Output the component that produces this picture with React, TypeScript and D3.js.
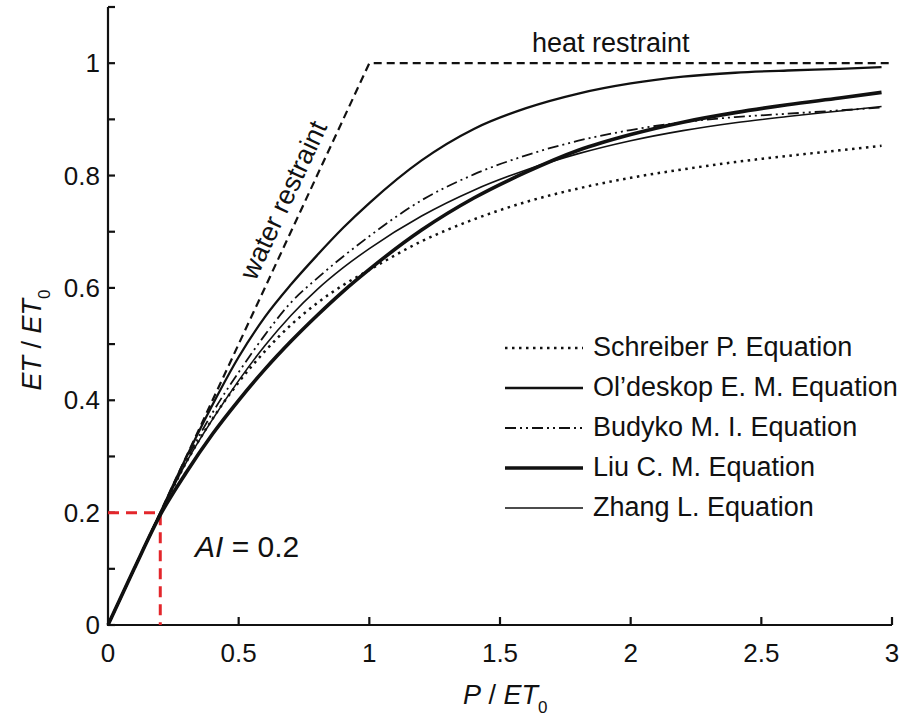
import { useRef, useEffect } from 'react';
import * as d3 from 'd3';

const W = 904;
const H = 717;
const FONT = '"Liberation Sans", Arial, sans-serif';

// P / ET0 sample points
const P_RATIO   = [0, 0.1, 0.2, 0.3, 0.4, 0.5, 0.6, 0.7, 0.8, 0.9, 1.0, 1.2, 1.4, 1.6, 1.8, 2.0, 2.2, 2.4, 2.6, 2.8, 2.96];
const SCHREIBER = [0, 0.1, 0.198, 0.29, 0.367, 0.432, 0.487, 0.534, 0.573, 0.605, 0.632, 0.683, 0.722, 0.753, 0.777, 0.796, 0.811, 0.824, 0.835, 0.845, 0.853];
const OLDESKOP  = [0, 0.1, 0.2, 0.299, 0.392, 0.477, 0.548, 0.606, 0.658, 0.707, 0.751, 0.827, 0.883, 0.92, 0.946, 0.964, 0.976, 0.983, 0.987, 0.99, 0.993];
const BUDYKO    = [0, 0.1, 0.199, 0.294, 0.378, 0.45, 0.516, 0.574, 0.617, 0.656, 0.692, 0.756, 0.802, 0.836, 0.862, 0.881, 0.895, 0.904, 0.91, 0.916, 0.921];
const LIU       = [0, 0.1, 0.196, 0.272, 0.34, 0.4, 0.455, 0.505, 0.551, 0.594, 0.633, 0.703, 0.76, 0.806, 0.845, 0.873, 0.895, 0.912, 0.926, 0.938, 0.948];
const ZHANG     = [0, 0.1, 0.198, 0.29, 0.366, 0.435, 0.497, 0.551, 0.597, 0.636, 0.67, 0.728, 0.774, 0.81, 0.839, 0.862, 0.88, 0.894, 0.905, 0.915, 0.923];

// limits: water restraint then heat restraint
const LIMIT_X = [0, 1, 2.99];
const LIMIT_Y = [0, 1, 1];

const AI = 0.2;

const X_TICKS = [0, 0.5, 1, 1.5, 2, 2.5, 3];
const X_LABELS = ['0', '0.5', '1', '1.5', '2', '2.5', '3'];
const Y_TICKS = [0, 0.2, 0.4, 0.6, 0.8, 1];
const Y_LABELS = ['0', '0.2', '0.4', '0.6', '0.8', '1'];
const Y_MINOR = [0.1, 0.3, 0.5, 0.7, 0.9, 1.1];

const SERIES = [
  { name: 'Schreiber P. Equation',   values: SCHREIBER, width: 2.5, dash: '2.5,4.5' },
  { name: 'Ol\u2019deskop E. M. Equation', values: OLDESKOP, width: 2.3, dash: null },
  { name: 'Budyko M. I. Equation',   values: BUDYKO, width: 1.8, dash: '11,4,2,4,2,4' },
  { name: 'Liu C. M. Equation',      values: LIU, width: 3.6, dash: null },
  { name: 'Zhang L. Equation',       values: ZHANG, width: 1.6, dash: null },
];

export default function App() {
  const ref = useRef<SVGSVGElement>(null);

  useEffect(() => {
    const svg = d3.select(ref.current);
    svg.selectAll('*').remove();

    const x = d3.scaleLinear().domain([0, 3]).range([108, 892]);
    const y = d3.scaleLinear().domain([0, 1.1]).range([625, 7]);

    // axes
    const ax = svg.append('g').attr('stroke', '#111').attr('stroke-width', 2.2);
    ax.append('line').attr('x1', x(0)).attr('x2', x(0)).attr('y1', y(0) + 1).attr('y2', y(1.1));
    ax.append('line').attr('x1', x(0) - 1).attr('x2', x(3)).attr('y1', y(0)).attr('y2', y(0));
    ax.selectAll('line.yt').data([...Y_TICKS, ...Y_MINOR]).enter().append('line')
      .attr('x1', x(0)).attr('x2', x(0) + 7).attr('y1', d => y(d)).attr('y2', d => y(d));
    ax.selectAll('line.xt').data(X_TICKS.slice(1)).enter().append('line')
      .attr('x1', d => x(d)).attr('x2', d => x(d)).attr('y1', y(0)).attr('y2', y(0) - 8);

    const lab = svg.append('g').attr('font-family', FONT).attr('font-size', 26).attr('fill', '#111');
    lab.selectAll('text.y').data(Y_TICKS).enter().append('text')
      .attr('x', 100).attr('y', d => y(d) + 9).attr('text-anchor', 'end')
      .text((_, i) => Y_LABELS[i]);
    lab.selectAll('text.x').data(X_TICKS).enter().append('text')
      .attr('x', d => x(d)).attr('y', 662).attr('text-anchor', 'middle')
      .text((_, i) => X_LABELS[i]);

    // axis titles
    const xt = svg.append('text').attr('font-family', FONT).attr('font-size', 27).attr('fill', '#111')
      .attr('x', 463).attr('y', 704);
    xt.append('tspan').attr('font-style', 'italic').text('P');
    xt.append('tspan').text(' / ');
    xt.append('tspan').attr('font-style', 'italic').text('ET');
    xt.append('tspan').attr('font-size', 17).attr('dy', 9).text('0');

    const yt = svg.append('text').attr('font-family', FONT).attr('font-size', 27).attr('fill', '#111')
      .attr('transform', 'translate(41,340) rotate(-90)').attr('text-anchor', 'middle');
    yt.append('tspan').attr('font-style', 'italic').text('ET');
    yt.append('tspan').text(' / ');
    yt.append('tspan').attr('font-style', 'italic').text('ET');
    yt.append('tspan').attr('font-size', 17).attr('dy', 9).text('0');

    // restraint lines
    const limitLine = d3.line<number>().x(d => x(d)).y((_, i) => y(LIMIT_Y[i]));
    svg.append('path').datum(LIMIT_X).attr('d', limitLine)
      .attr('fill', 'none').attr('stroke', '#111').attr('stroke-width', 2.2).attr('stroke-dasharray', '8,5');

    svg.append('text').attr('font-family', FONT).attr('font-size', 27).attr('fill', '#111')
      .attr('x', 532).attr('y', 52).text('heat restraint');
    svg.append('text').attr('font-family', FONT).attr('font-size', 27).attr('fill', '#111')
      .attr('text-anchor', 'middle').attr('dy', '0.35em')
      .attr('transform', 'translate(283,200) rotate(-65)').text('water restraint');

    // AI marker
    svg.append('path')
      .attr('d', `M${x(0)},${y(AI)}H${x(AI)}V${y(0)}`)
      .attr('fill', 'none').attr('stroke', '#e3262b').attr('stroke-width', 3).attr('stroke-dasharray', '11,7');
    const ait = svg.append('text').attr('font-family', FONT).attr('font-size', 30).attr('fill', '#111')
      .attr('x', 195).attr('y', 557);
    ait.append('tspan').attr('font-style', 'italic').text('AI');
    ait.append('tspan').text(' = 0.2');

    // curves
    const line = d3.line<number>().x((_, i) => x(P_RATIO[i])).y(d => y(d)).curve(d3.curveMonotoneX);
    SERIES.forEach(s => {
      svg.append('path').datum(s.values).attr('d', line)
        .attr('fill', 'none').attr('stroke', '#111').attr('stroke-width', s.width)
        .attr('stroke-dasharray', s.dash);
    });

    // legend
    const lg = svg.append('g');
    SERIES.forEach((s, i) => {
      const by = 356 + i * 40;
      lg.append('line').attr('x1', 505).attr('x2', 583).attr('y1', by - 8).attr('y2', by - 8)
        .attr('stroke', '#111').attr('stroke-width', s.width).attr('stroke-dasharray', s.dash);
      lg.append('text').attr('x', 593).attr('y', by).attr('font-family', FONT).attr('font-size', 27)
        .attr('fill', '#111').text(s.name);
    });
  }, []);

  return (
    <svg ref={ref} width={W} height={H}
      style={{ position: 'absolute', left: 0, top: 0, background: '#fff' }} />
  );
}
